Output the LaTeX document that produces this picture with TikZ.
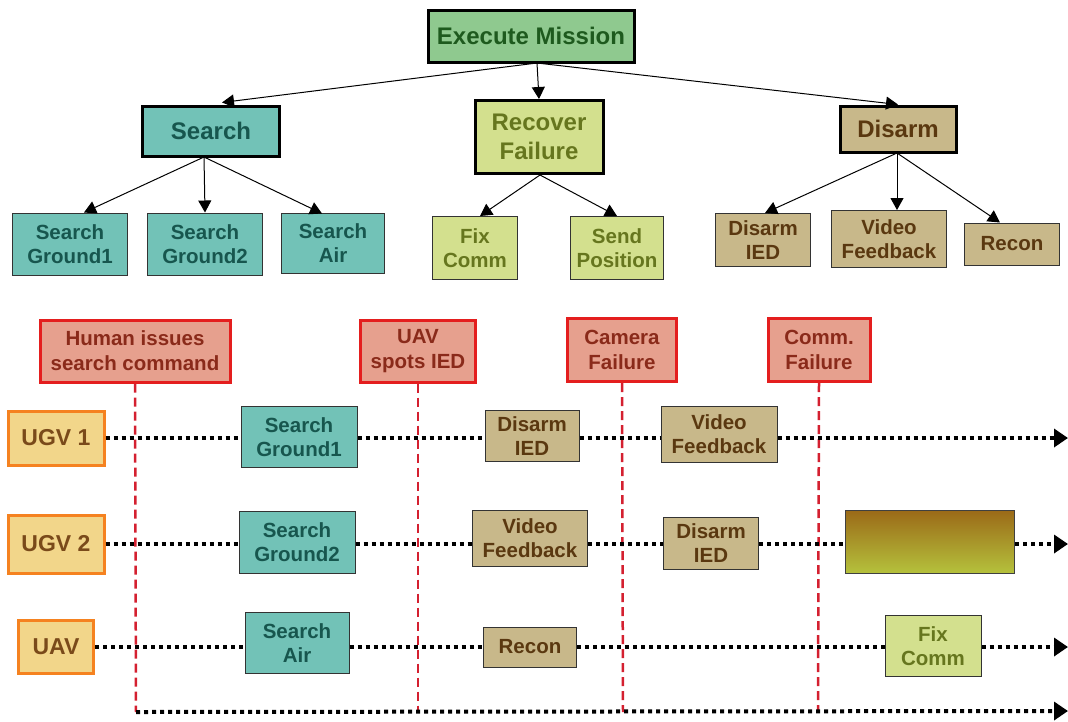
\documentclass[tikz,border=0pt]{standalone}
\usepackage{fontspec}
\setmainfont{Liberation Sans}
\usetikzlibrary{arrows.meta}
\definecolor{emfill}{HTML}{8FC98F}
\definecolor{emtext}{HTML}{1E5A1E}
\definecolor{tealfill}{HTML}{72C2B7}
\definecolor{tealtext}{HTML}{17564E}
\definecolor{ygfill}{HTML}{D3E08E}
\definecolor{ygtext}{HTML}{66761E}
\definecolor{tanfill}{HTML}{C8B88A}
\definecolor{tantext}{HTML}{5A3810}
\definecolor{evfill}{HTML}{E6A08E}
\definecolor{evtext}{HTML}{8A2A1A}
\definecolor{evline}{HTML}{E41E1E}
\definecolor{agfill}{HTML}{F2D68A}
\definecolor{agline}{HTML}{F58220}
\definecolor{agtext}{HTML}{7A4A1A}
\definecolor{dashred}{HTML}{D42030}
\definecolor{gradtop}{HTML}{9B6A18}
\definecolor{gradbot}{HTML}{B5C23C}
\begin{document}
\begin{tikzpicture}[x=1pt,y=-1pt,
  every node/.style={font=\bfseries, align=center, inner sep=1pt},
  sz/.style 2 args={minimum width=#1, minimum height=#2},
  topbox/.style={draw=black, line width=3pt, font=\bfseries\fontsize{24}{29}\selectfont},
  smallbox/.style={draw=black!80, line width=1pt, font=\bfseries\fontsize{20.5}{24}\selectfont},
  em/.style={topbox, fill=emfill, text=emtext},
  tealtop/.style={topbox, fill=tealfill, text=tealtext},
  ygtop/.style={topbox, fill=ygfill, text=ygtext},
  tantop/.style={topbox, fill=tanfill, text=tantext},
  teal/.style={smallbox, fill=tealfill, text=tealtext},
  yg/.style={smallbox, fill=ygfill, text=ygtext},
  tan/.style={smallbox, fill=tanfill, text=tantext},
  event/.style={draw=evline, line width=3pt, fill=evfill, text=evtext, font=\bfseries\fontsize{20.5}{25}\selectfont},
  agent/.style={draw=agline, line width=3pt, fill=agfill, text=agtext, font=\bfseries\fontsize{23}{25}\selectfont},
  treearrow/.style={draw=black, line width=1pt, -{Triangle[length=12pt,width=13pt]}},
  timeline/.style={draw=black, line width=4pt, dash pattern=on 4pt off 4pt},
  timearrow/.style={timeline, -{Triangle[length=14pt,width=18pt]}},
  eventline/.style={draw=dashred, line width=2.5pt, dash pattern=on 9pt off 5pt}
]
\useasboundingbox (0,0) rectangle (1068,721);

% ---------- tree ----------
\node[em, sz={206pt}{52pt}] (EM) at (531,36) {Execute Mission};
\node[tealtop, sz={137pt}{50pt}] (S) at (211,131) {Search};
\node[ygtop, sz={128pt}{73pt}] (R) at (539,137) {Recover\\Failure};
\node[tantop, sz={116pt}{46pt}] (D) at (898,129) {Disarm};

\node[teal, sz={115pt}{62pt}] (SG1) at (70,244) {Search\\Ground1};
\node[teal, sz={115pt}{62pt}] (SG2) at (205,244) {Search\\Ground2};
\node[teal, sz={103pt}{60pt}] (SA) at (333,243) {Search\\Air};
\node[yg, sz={85pt}{63pt}] (FC) at (475,248) {Fix\\Comm};
\node[yg, sz={93pt}{63pt}] (SP) at (617,248) {Send\\Position};
\node[tan, sz={95pt}{53pt}] (DI) at (763,240) {Disarm\\IED};
\node[tan, sz={115pt}{57pt}] (VF) at (889,239) {Video\\Feedback};
\node[tan, sz={95pt}{42pt}] (RC) at (1012,244) {Recon};

\coordinate (EMb) at (537,63);
\draw[treearrow] (EMb) -- ([xshift=11pt,yshift=2pt]S.north);
\draw[treearrow] (EMb) -- (R.north);
\draw[treearrow] (EMb) -- (D.north);
\coordinate (Sb) at (204,157);
\draw[treearrow] (Sb) -- ([xshift=14pt]SG1.north);
\draw[treearrow] (Sb) -- (SG2.north);
\draw[treearrow] (Sb) -- ([xshift=-11pt,yshift=-1pt]SA.north);
\coordinate (Rb) at (540,175);
\draw[treearrow] (Rb) -- ([xshift=5pt]FC.north);
\draw[treearrow] (Rb) -- (SP.north);
\coordinate (Db) at (897,153);
\draw[treearrow] (Db) -- ([xshift=2pt]DI.north);
\draw[treearrow] (Db) -- ([xshift=8pt]VF.north);
\draw[treearrow] (Db) -- ([xshift=-12pt]RC.north);

% ---------- events ----------
\node[event, sz={190pt}{62pt}] (E1) at (135,351) {Human issues\\search command};
\node[event, sz={115pt}{62pt}] (E2) at (418,351) {UAV\\spots IED};
\node[event, sz={109pt}{63pt}] (E3) at (622,350) {Camera\\Failure};
\node[event, sz={102pt}{63pt}] (E4) at (819,350) {Comm.\\Failure};

\coordinate (L1) at (136,712);
\coordinate (L2) at (418,712);
\coordinate (L3) at (623,712);
\coordinate (L4) at (818,712);
\coordinate (T1) at (1068,438);
\coordinate (T2) at (1068,544);
\coordinate (T3) at (1068,647);
\coordinate (T4) at (1068,711);

% ---------- event lines (behind) ----------
\draw[eventline] (E1.south) -- (L1);
\draw[eventline] (E2.south) -- (L2);
\draw[eventline] (E3.south) -- (L3);
\draw[eventline] (E4.south) -- (L4);

% ---------- agents ----------
\node[agent, sz={96pt}{54pt}] (U1) at (56,438) {UGV 1};
\node[agent, sz={96pt}{58pt}] (U2) at (56,544) {UGV 2};
\node[agent, sz={75pt}{53pt}] (UA) at (56,647) {UAV};

% ---------- timeline boxes ----------
\node[teal, sz={116pt}{61pt}] (a1) at (299,437) {Search\\Ground1};
\node[tan, sz={94pt}{51pt}] (a2) at (532,436) {Disarm\\IED};
\node[tan, sz={116pt}{56pt}] (a3) at (719,434) {Video\\Feedback};

\node[teal, sz={116pt}{62pt}] (b1) at (297,542) {Search\\Ground2};
\node[tan, sz={115pt}{56pt}] (b2) at (530,538) {Video\\Feedback};
\node[tan, sz={95pt}{52pt}] (b3) at (711,543) {Disarm\\IED};
\node[draw=black!75, line width=1pt, top color=gradtop, bottom color=gradbot, sz={169pt}{63pt}] (b4) at (930,542) {};

\node[teal, sz={104pt}{61pt}] (c1n) at (297,643) {Search\\Air};
\node[tan, sz={93pt}{40pt}] (c2n) at (530,647) {Recon};
\node[yg, sz={96pt}{61pt}] (c3n) at (933,646) {Fix\\Comm};

% ---------- timelines ----------
\draw[timeline] (U1.east) -- (U1.east -| a1.west);
\draw[timeline] (U1.east -| a1.east) -- (U1.east -| a2.west);
\draw[timeline] (U1.east -| a2.east) -- (U1.east -| a3.west);
\draw[timearrow] (U1.east -| a3.east) -- (T1);

\draw[timeline] (U2.east) -- (U2.east -| b1.west);
\draw[timeline] (U2.east -| b1.east) -- (U2.east -| b2.west);
\draw[timeline] (U2.east -| b2.east) -- (U2.east -| b3.west);
\draw[timeline] (U2.east -| b3.east) -- (U2.east -| b4.west);
\draw[timearrow] (U2.east -| b4.east) -- (T2);

\draw[timeline] (UA.east) -- (UA.east -| c1n.west);
\draw[timeline] (UA.east -| c1n.east) -- (UA.east -| c2n.west);
\draw[timeline] (UA.east -| c2n.east) -- (UA.east -| c3n.west);
\draw[timearrow] (UA.east -| c3n.east) -- (T3);

\draw[timearrow] (L1) -- (T4);
\end{tikzpicture}
\end{document}
